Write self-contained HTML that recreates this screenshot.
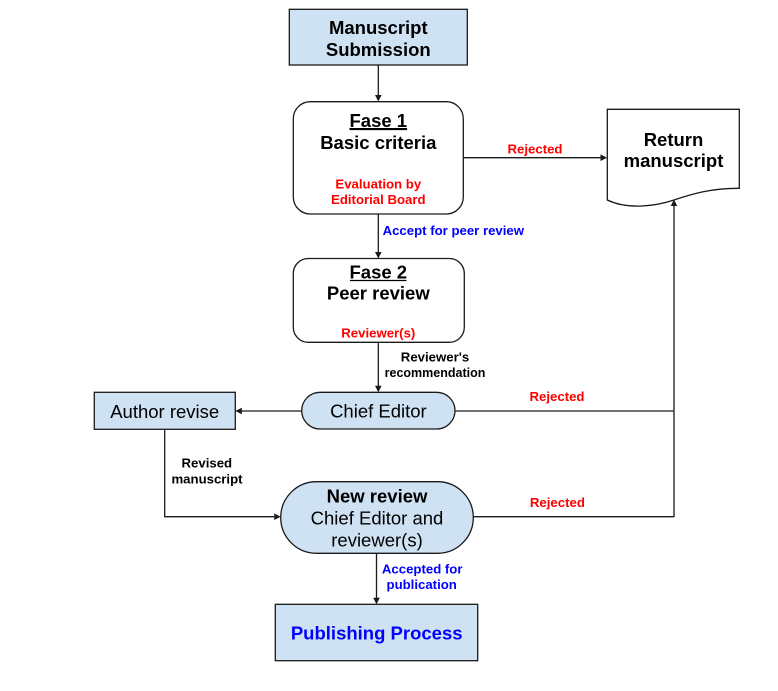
<!DOCTYPE html>
<html>
<head>
<meta charset="utf-8">
<style>
  html, body { margin: 0; padding: 0; background: #ffffff; }
  svg { display: block; }
  text { font-family: "Liberation Sans", Arial, sans-serif; }
  .b { font-weight: bold; }
  .m { font-size: 18.5px; }
  .s { font-size: 13.2px; font-weight: bold; }
  .red { fill: #ff0000; }
  .blue { fill: #0000ff; }
  .blk { fill: #000000; }
</style>
</head>
<body>
<svg width="778" height="691" viewBox="0 0 778 691" xmlns="http://www.w3.org/2000/svg">
  <rect x="0" y="0" width="778" height="691" fill="#ffffff"/>

  <!-- Connectors -->
  <g stroke="#1a1a1a" stroke-width="1.3" fill="none">
    <!-- Manuscript -> Fase 1 -->
    <line x1="378.3" y1="65" x2="378.3" y2="96"/>
    <!-- Fase1 -> Return -->
    <line x1="463.3" y1="157.7" x2="601" y2="157.7"/>
    <!-- Fase1 -> Fase2 -->
    <line x1="378.3" y1="214" x2="378.3" y2="253"/>
    <!-- Fase2 -> Chief Editor -->
    <line x1="378.3" y1="342.3" x2="378.3" y2="387"/>
    <!-- Chief Editor -> Author revise -->
    <line x1="301.7" y1="411" x2="241" y2="411"/>
    <!-- Chief Editor right -> vertical -->
    <line x1="455" y1="411" x2="674" y2="411"/>
    <!-- Vertical up into Return document -->
    <line x1="674" y1="517" x2="674" y2="206"/>
    <!-- Author revise down and right to New review -->
    <polyline points="164.7,429.3 164.7,516.7 274,516.7"/>
    <!-- New review right -->
    <line x1="473.3" y1="516.7" x2="674" y2="516.7"/>
    <!-- New review -> Publishing -->
    <line x1="376.5" y1="553.3" x2="376.5" y2="598"/>
  </g>

  <!-- Arrowheads -->
  <g fill="#1a1a1a">
    <polygon points="378.3,101.5 375,95 381.6,95"/>
    <polygon points="607,157.7 600.5,154.4 600.5,161"/>
    <polygon points="378.3,258.5 375,252 381.6,252"/>
    <polygon points="378.3,392.3 375,385.8 381.6,385.8"/>
    <polygon points="235.3,411 241.8,407.7 241.8,414.3"/>
    <polygon points="674,199.5 670.7,206 677.3,206"/>
    <polygon points="280.7,516.7 274.2,513.4 274.2,520"/>
    <polygon points="376.5,604.3 373.2,597.8 379.8,597.8"/>
  </g>

  <!-- Shapes -->
  <g stroke="#1a1a1a" stroke-width="1.3">
    <!-- Manuscript Submission -->
    <rect x="289.3" y="9.3" width="178" height="55.7" fill="#cfe2f3"/>
    <!-- Fase 1 -->
    <rect x="293.3" y="101.7" width="170" height="112.3" rx="17" ry="17" fill="#ffffff"/>
    <!-- Return manuscript document -->
    <path d="M607.3,109.3 H739.3 V188.3 C712,188 692,194 674,200 C656,206 628,210 607.3,200 Z" fill="#ffffff"/>
    <!-- Fase 2 -->
    <rect x="293.3" y="258.5" width="171" height="83.8" rx="15" ry="15" fill="#ffffff"/>
    <!-- Chief Editor -->
    <rect x="301.7" y="392.3" width="153.3" height="36.7" rx="18.35" ry="18.35" fill="#cfe2f3"/>
    <!-- Author revise -->
    <rect x="94.3" y="392.3" width="141" height="37" fill="#cfe2f3"/>
    <!-- New review -->
    <rect x="280.7" y="481.7" width="192.6" height="71.6" rx="35.8" ry="35.8" fill="#cfe2f3"/>
    <!-- Publishing Process -->
    <rect x="275.3" y="604.3" width="202.4" height="56.4" fill="#cfe2f3"/>
  </g>

  <!-- Text: main nodes -->
  <g text-anchor="middle">
    <text x="378.3" y="34" class="m b blk">Manuscript</text>
    <text x="378.3" y="56" class="m b blk">Submission</text>

    <text x="378.3" y="127" class="m b blk" text-decoration="underline">Fase 1</text>
    <line x1="350" y1="129.5" x2="406.5" y2="129.5" stroke="#000" stroke-width="1.3"/>
    <text x="378.3" y="149" class="m b blk">Basic criteria</text>
    <text x="378.3" y="188.5" class="s red">Evaluation by</text>
    <text x="378.3" y="204" class="s red">Editorial Board</text>

    <text x="673.5" y="146" class="m b blk">Return</text>
    <text x="673.5" y="167" class="m b blk">manuscript</text>

    <text x="378.3" y="278.3" class="m b blk">Fase 2</text>
    <line x1="350" y1="280.5" x2="406.5" y2="280.5" stroke="#000" stroke-width="1.3"/>
    <text x="378.3" y="299.3" class="m b blk">Peer review</text>
    <text x="378.3" y="337.7" class="s red">Reviewer(s)</text>

    <text x="378.4" y="417.6" class="m blk">Chief Editor</text>
    <text x="164.7" y="418" class="m blk">Author revise</text>

    <text x="377" y="502.6" class="m b blk">New review</text>
    <text x="377" y="524.6" class="m blk">Chief Editor and</text>
    <text x="377" y="546.6" class="m blk">reviewer(s)</text>

    <text x="376.7" y="639.3" class="m b blue">Publishing Process</text>
  </g>

  <!-- Connector labels -->
  <g text-anchor="middle">
    <text x="535" y="153.3" class="s red">Rejected</text>
    <text x="453.3" y="235" class="s blue">Accept for peer review</text>
    <text x="435" y="361.3" class="s blk">Reviewer's</text>
    <text x="435" y="377" class="s blk" style="font-size:12.5px">recommendation</text>
    <text x="557" y="401" class="s red">Rejected</text>
    <text x="206.8" y="467.4" class="s blk">Revised</text>
    <text x="207" y="483.7" class="s blk">manuscript</text>
    <text x="557.4" y="507" class="s red">Rejected</text>
    <text x="422.2" y="573.7" class="s blue">Accepted for</text>
    <text x="421.7" y="589" class="s blue">publication</text>
  </g>
</svg>
</body>
</html>
